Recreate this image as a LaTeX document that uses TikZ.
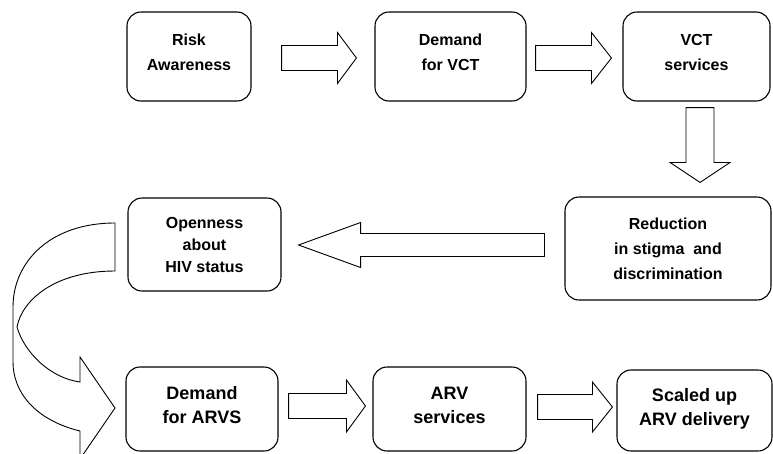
\documentclass[tikz,border=0pt]{standalone}
\usepackage{fontspec}
\setmainfont{Liberation Sans}
\usetikzlibrary{calc}
\tikzstyle{stage}=[draw, line width=1.1pt, rounded corners=14pt, align=center]
\tikzstyle{blockarrow}=[draw, fill=white, line width=0.9pt, line join=miter]

% horizontal block arrow: from, to, half shaft, half head, head length
\newcommand{\harrow}[5]{%
  \draw[blockarrow] let \p1=#1, \p2=#2, \n1={sign(\x2-\x1)} in
    (\x1,{\y1+#3}) -- ({\x2-\n1*#5},{\y1+#3}) -- ({\x2-\n1*#5},{\y1+#4}) -- (\x2,\y1)
    -- ({\x2-\n1*#5},{\y1-#4}) -- ({\x2-\n1*#5},{\y1-#3}) -- (\x1,{\y1-#3}) -- cycle;}
% downward block arrow
\newcommand{\varrow}[5]{%
  \draw[blockarrow] let \p1=#1, \p2=#2 in
    ({\x1-#3},\y1) -- ({\x1-#3},{\y2+#5}) -- ({\x1-#4},{\y2+#5}) -- (\x1,\y2)
    -- ({\x1+#4},{\y2+#5}) -- ({\x1+#3},{\y2+#5}) -- ({\x1+#3},\y1) -- cycle;}

\begin{document}
\begin{tikzpicture}[x=1pt,y=-1pt]
  \tikzstyle{upper}=[font=\bfseries\fontsize{16}{25}\selectfont, text depth=9pt]
  \tikzstyle{lower}=[font=\bfseries\fontsize{18}{24}\selectfont, text depth=8pt]
  \clip (0,0) rectangle (773,453);

  % top row
  \node[stage, upper, minimum width=124pt, minimum height=89pt] (risk) at (189,56.5) {Risk\\Awareness};
  \node[stage, upper, minimum width=151pt, minimum height=89pt] (demvct) at (450.5,56.5) {Demand\\for VCT};
  \node[stage, upper, minimum width=147pt, minimum height=89pt] (vct) at (696.5,56.5) {VCT\\services};

  % middle row
  \node[stage, font=\bfseries\fontsize{16}{25}\selectfont, minimum width=206pt, minimum height=103pt] (reduce) at (668,248.5)
    {Reduction\\in stigma\ \ and\\discrimination};
  \node[stage, font=\bfseries\fontsize{16}{22}\selectfont, minimum width=153pt, minimum height=93pt] (open) at (204.5,244.5)
    {Openness\\about\\HIV status};

  % bottom row
  \node[stage, lower, minimum width=152pt, minimum height=84pt] (demarv) at (202,409) {Demand\\for ARVS};
  \node[stage, lower, minimum width=153pt, minimum height=84pt] (arv) at (449.5,409) {ARV\\services};
  \node[stage, lower, minimum width=155pt, minimum height=81pt] (scaled) at (694.5,410.5) {Scaled up\\ARV delivery};

  % block arrows
  \harrow{($(risk.east)+(30,1.5)$)}{($(demvct.west)+(-18,1.5)$)}{12.5pt}{25.5pt}{19pt}
  \harrow{($(demvct.east)+(9,1.5)$)}{($(vct.west)+(-11,1.5)$)}{12.5pt}{25.5pt}{20pt}
  \varrow{($(vct.south)+(3.5,6)$)}{($(reduce.north)+(3.5,-14)$)}{14pt}{30pt}{20pt}
  \harrow{($(reduce.west)+(-20,-3.5)$)}{($(open.east)+(17,0)$)}{11.5pt}{22.5pt}{62pt}
  \harrow{($(demarv.east)+(10,-3)$)}{($(arv.west)+(-7,-3)$)}{12.5pt}{26pt}{19pt}
  \harrow{($(arv.east)+(11,-2)$)}{($(scaled.west)+(-4,-2)$)}{12.5pt}{25pt}{20pt}

  % curved arrow from openness down to demand for ARVS
  \draw[blockarrow] (115,223) .. controls (50,223) and (13,262) .. (13,307) -- (13,362)
    .. controls (13,392) and (35,420) .. (80,431) -- (80,459) -- (115,408) -- (80,357) -- (80,382)
    .. controls (50,378) and (24,352) .. (17,327) .. controls (22,300) and (55,271) .. (115,271) -- cycle;
\end{tikzpicture}
\end{document}
